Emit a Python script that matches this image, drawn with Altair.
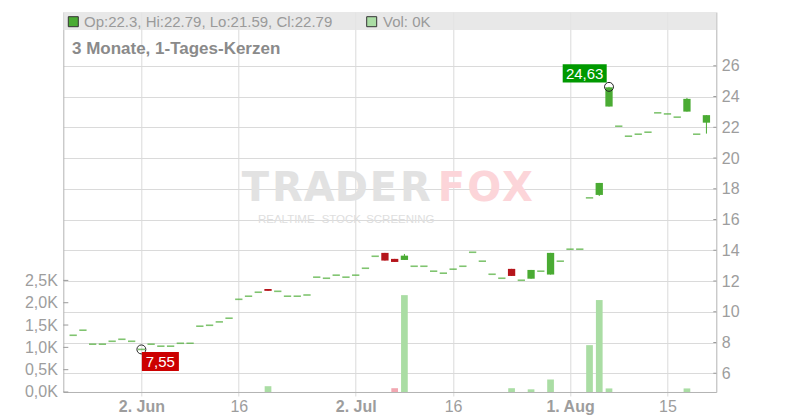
import json
import altair as alt
import pandas as pd
import numpy as np

# ---------------- data ----------------
dates = [d.strftime("%Y-%m-%d") for d in pd.bdate_range("2025-05-22", "2025-08-21")]

opens = [8.47, 8.80, 7.89, 7.89, 8.08, 8.21, 8.08, 7.55, 7.89, 7.76,
         7.76, 7.95, 7.95, 9.06, 9.12, 9.34, 9.58, 10.81, 11.01, 11.27,
         11.48, 11.33, 11.01, 11.01, 11.09, 12.25, 12.18, 12.38, 12.25, 12.38,
         12.83, 13.61, 13.83, 13.44, 13.37, 12.96, 12.96, 12.64, 12.51, 12.77,
         12.96, 13.87, 13.29, 12.44, 12.18, 12.79, 12.05, 12.15, 12.64, 12.42,
         13.29, 14.07, 14.07, 17.41, 17.60, 23.35, 22.07, 21.42, 21.55, 21.68,
         22.94, 22.87, 22.66, 23.02, 21.55, 22.30]
highs = [8.47, 8.80, 7.89, 7.89, 8.08, 8.21, 8.08, 7.55, 7.89, 7.76,
         7.76, 7.95, 7.95, 9.06, 9.12, 9.34, 9.58, 10.81, 11.01, 11.27,
         11.48, 11.33, 11.01, 11.01, 11.09, 12.25, 12.18, 12.38, 12.25, 12.38,
         12.83, 13.61, 13.83, 13.44, 13.76, 12.96, 12.96, 12.64, 12.51, 12.77,
         12.96, 13.87, 13.29, 12.44, 12.18, 12.79, 12.05, 12.72, 12.64, 13.83,
         13.29, 14.07, 14.07, 17.41, 18.38, 24.63, 22.07, 21.42, 21.55, 21.68,
         22.94, 22.87, 22.66, 23.91, 21.55, 22.79]
lows = [8.47, 8.80, 7.89, 7.89, 8.08, 8.21, 8.08, 7.55, 7.89, 7.76,
        7.76, 7.95, 7.95, 9.06, 9.12, 9.34, 9.58, 10.81, 11.01, 11.27,
        11.36, 11.33, 11.01, 11.01, 11.09, 12.25, 12.18, 12.38, 12.25, 12.38,
        12.83, 13.61, 13.33, 13.24, 13.37, 12.96, 12.96, 12.64, 12.51, 12.77,
        12.96, 13.87, 13.29, 12.44, 12.18, 12.33, 12.05, 12.15, 12.64, 12.42,
        13.29, 14.07, 14.07, 17.41, 17.53, 23.35, 22.07, 21.42, 21.55, 21.68,
        22.94, 22.87, 22.66, 23.02, 21.55, 21.59]
closes = [8.47, 8.80, 7.89, 7.89, 8.08, 8.21, 8.08, 7.55, 7.89, 7.76,
          7.76, 7.95, 7.95, 9.06, 9.12, 9.34, 9.58, 10.81, 11.01, 11.27,
          11.36, 11.33, 11.01, 11.01, 11.09, 12.25, 12.18, 12.38, 12.25, 12.38,
          12.83, 13.61, 13.33, 13.24, 13.65, 12.96, 12.96, 12.64, 12.51, 12.77,
          12.96, 13.87, 13.29, 12.44, 12.18, 12.33, 12.05, 12.72, 12.64, 13.83,
          13.29, 14.07, 14.07, 17.41, 18.38, 24.60, 22.07, 21.42, 21.55, 21.68,
          22.94, 22.87, 22.66, 23.85, 21.55, 22.79]
volumes = [0, 0, 0, 0, 0, 0, 0, 0, 0, 0,
           0, 0, 0, 0, 0, 0, 0, 0, 0, 0,
           130, 0, 0, 0, 0, 0, 0, 0, 0, 0,
           0, 0, 0, 85, 2170, 0, 0, 0, 0, 0,
           0, 0, 0, 0, 0, 85, 0, 60, 0, 280,
           0, 0, 0, 1050, 2060, 80, 0, 0, 0, 0,
           0, 0, 0, 80, 0, 0]

tick_dates = ["2025-06-02", "2025-06-16", "2025-07-02", "2025-07-16", "2025-08-01", "2025-08-15"]
tick_labels = ["2. Jun", "16", "2. Jul", "16", "1. Aug", "15"]
price_ticks = [6, 8, 10, 12, 14, 16, 18, 20, 22, 24, 26]
vol_ticks = [0, 500, 1000, 1500, 2000, 2500]

title_text = "3 Monate, 1-Tages-Kerzen"

# ---------------- styles ----------------
GREEN = "#4aab33"
RED = "#b5151b"
VGREEN = "#aadda4"
VRED = "#f2a7b1"
GRID = "#dadada"
AXIS = "#b4b4b4"
LABEL = "#9d9d9d"
FONT = "Liberation Sans"
W, H = 653, 380

df = pd.DataFrame({"date": dates, "i": list(range(len(dates))), "o": opens,
                   "h": highs, "l": lows, "c": closes, "v": volumes})
df["col"] = np.where(df["c"] >= df["o"], GREEN, RED)
prev = df["c"].shift(1).fillna(df["o"])
df["vcol"] = np.where(df["c"] >= prev, VGREEN, VRED)

tick_idx = [dates.index(d) for d in tick_dates]
bold_idx = [tick_idx[k] for k, l in enumerate(tick_labels) if not l.isdigit()]

x_enc = alt.X(
    "i:Q",
    scale=alt.Scale(domain=[-0.5, len(dates) - 0.5], nice=False, zero=False),
    axis=alt.Axis(
        values=tick_idx,
        labelExpr=f"{json.dumps(tick_labels)}[indexof({json.dumps(tick_idx)}, datum.value)]",
        labelFontWeight={"condition": {"test": f"indexof({json.dumps(bold_idx)}, datum.value) >= 0",
                                       "value": "bold"}, "value": "normal"},
        grid=True, gridColor=GRID, gridWidth=1,
        domainColor=AXIS, tickColor=GRID, tickSize=4,
        labelColor=LABEL, labelFontSize=16, labelFont=FONT, labelPadding=3,
        labelOverlap=False, title=None,
    ),
)

vol_scale = alt.Scale(domain=[0, 8513], nice=False, zero=True)
price_scale = alt.Scale(domain=[4.78, 29.5], nice=False, zero=False)

vol_axis = alt.Axis(orient="left", values=vol_ticks, grid=False, ticks=False,
                    labelExpr="replace(format(datum.value / 1000, '.1f'), '.', ',') + 'K'",
                    domainColor=AXIS, labelColor=LABEL, labelFontSize=16, labelFont=FONT,
                    labelPadding=6, labelOverlap=False, title=None)
price_axis = alt.Axis(orient="right", values=price_ticks, grid=True, gridColor=GRID, ticks=False,
                      domainColor=AXIS, labelColor=LABEL, labelFontSize=16, labelFont=FONT,
                      labelPadding=5, labelOverlap=False, title=None)

# ---------------- decoration ----------------
one = pd.DataFrame({"k": [0]})
deco = alt.Chart(one)
band = deco.mark_rect(color="#e4e4e4", opacity=0.85).encode(
    x=alt.value(0), x2=alt.value(W), y=alt.value(0), y2=alt.value(18))

last = df.iloc[-1]
ohlc_text = f"Op:{last.o:g}, Hi:{last.h:g}, Lo:{last.l:g}, Cl:{last.c:g}"
vol_text = f"Vol: {last.v/1000:.0f}K"

sq1 = deco.mark_point(shape="square", size=100, filled=True, fill=GREEN, stroke="#333",
                      strokeWidth=1, opacity=1).encode(x=alt.value(10), y=alt.value(9.7))
sq2 = deco.mark_point(shape="square", size=100, filled=True, fill=VGREEN, stroke="#333",
                      strokeWidth=1, opacity=1).encode(x=alt.value(308.4), y=alt.value(9.7))
t1 = deco.mark_text(text=ohlc_text, align="left", baseline="alphabetic", font=FONT,
                    fontSize=15, color="#9a9a9a").encode(x=alt.value(20.7), y=alt.value(15.3))
t2 = deco.mark_text(text=vol_text, align="left", baseline="alphabetic", font=FONT,
                    fontSize=15, color="#9a9a9a").encode(x=alt.value(319.7), y=alt.value(15.3))
ttl = deco.mark_text(text=title_text, align="left", baseline="alphabetic", font=FONT,
                     fontSize=17, fontWeight="bold", color="#8a8a8a").encode(
    x=alt.value(8.7), y=alt.value(42.3))

wm = []
for k, ch in enumerate("TRADER"):
    wm.append(deco.mark_text(text=ch, align="center", baseline="alphabetic", font="DejaVu Sans",
                             fontSize=40, fontWeight="bold", color="#e2e2e2").encode(
        x=alt.value(192 + 32 * k), y=alt.value(188.7)))
for k, ch in enumerate("FOX"):
    wm.append(deco.mark_text(text=ch, align="center", baseline="alphabetic", font="DejaVu Sans",
                             fontSize=40, fontWeight="bold", color="#fcd5d9").encode(
        x=alt.value(388 + 33 * k), y=alt.value(188.7)))
for k, word in enumerate(["REALTIME", "STOCK", "SCREENING"]):
    wm.append(deco.mark_text(text=word, align="center", baseline="alphabetic", font=FONT,
                             fontSize=11.5, color="#dedede").encode(
        x=alt.value([223, 278, 337][k]), y=alt.value(211)))

deco_layer = alt.layer(band, *wm)
head_layer = alt.layer(sq1, sq2, t1, t2, ttl)

# ---------------- volume ----------------
base = alt.Chart(df)
vol_bars = base.mark_bar(width=6.7).encode(
    x=x_enc,
    y=alt.Y("v:Q", scale=vol_scale, axis=vol_axis),
    color=alt.Color("vcol:N", scale=None),
)
vt = alt.Chart(pd.DataFrame({"v": vol_ticks})).mark_rule(color="#9a9a9a").encode(
    y=alt.Y("v:Q", scale=vol_scale, axis=vol_axis), x=alt.value(0), x2=alt.value(5))
vol_layer = alt.layer(vol_bars, vt)

# ---------------- price ----------------
py = lambda f: alt.Y(f, scale=price_scale, axis=price_axis)
wicks = base.mark_rule(strokeWidth=1).encode(
    x=x_enc, y=py("l:Q"), y2="h:Q", color=alt.Color("col:N", scale=None))
bodies = base.transform_filter("datum.o != datum.c").mark_bar(width=7.3).encode(
    x=x_enc, y=py("o:Q"), y2="c:Q", color=alt.Color("col:N", scale=None))
dojis = base.transform_filter("datum.o == datum.c").mark_tick(
    orient="horizontal", size=7.3, thickness=1.6).encode(
    x=x_enc, y=py("c:Q"), color=alt.Color("col:N", scale=None))
pt = alt.Chart(pd.DataFrame({"l": price_ticks})).mark_rule(color="#9a9a9a").encode(
    y=py("l:Q"), x=alt.value(W - 3), x2=alt.value(W))

lo_i = int(np.argmin(lows))
hi_i = int(np.argmax(highs))
fmt = lambda v: f"{v:.2f}".replace(".", ",")
ext_lo = pd.DataFrame({"i": [lo_i], "l": [lows[lo_i]], "t": [fmt(lows[lo_i])]})
ext_hi = pd.DataFrame({"i": [hi_i], "l": [highs[hi_i]], "t": [fmt(highs[hi_i])]})

lo_box = alt.Chart(ext_lo).mark_point(
    shape="M-1.95,-1L1.95,-1L1.95,1L-1.95,1Z", size=361, filled=True, fill="#cc0000",
    opacity=1, strokeWidth=0, xOffset=19, yOffset=12).encode(x=x_enc, y=py("l:Q"))
lo_txt = alt.Chart(ext_lo).mark_text(color="white", fontSize=15, font=FONT, dx=19, dy=13,
                                     baseline="middle").encode(x=x_enc, y=py("l:Q"), text="t:N")
lo_circ = alt.Chart(ext_lo).mark_point(shape="circle", size=80, filled=False, stroke="#222",
                                       strokeWidth=1, opacity=1).encode(x=x_enc, y=py("l:Q"))
hi_box = alt.Chart(ext_hi).mark_point(
    shape="M-2.39,-1L2.39,-1L2.39,1L-2.39,1Z", size=339, filled=True, fill="#009900",
    opacity=1, strokeWidth=0, xOffset=-24.3, yOffset=-13.5).encode(x=x_enc, y=py("l:Q"))
hi_txt = alt.Chart(ext_hi).mark_text(color="white", fontSize=15, font=FONT, dx=-24.3, dy=-12.5,
                                     baseline="middle").encode(x=x_enc, y=py("l:Q"), text="t:N")
hi_circ = alt.Chart(ext_hi).mark_point(shape="circle", size=80, filled=False, stroke="#222",
                                       strokeWidth=1, opacity=1).encode(x=x_enc, y=py("l:Q"))

price_layer = alt.layer(wicks, bodies, dojis, pt, lo_circ, hi_circ, lo_box, lo_txt, hi_box, hi_txt)

chart = alt.layer(deco_layer, vol_layer, price_layer, head_layer).resolve_scale(
    y="independent").properties(
    width=W, height=H,
    autosize=alt.AutoSizeParams(type="none"),
    padding={"left": 55.3, "top": 4, "right": 70, "bottom": 24},
    background="white",
).configure_view(strokeWidth=0)

chart.save("out.html", embed_options={"renderer": "svg", "actions": False})
